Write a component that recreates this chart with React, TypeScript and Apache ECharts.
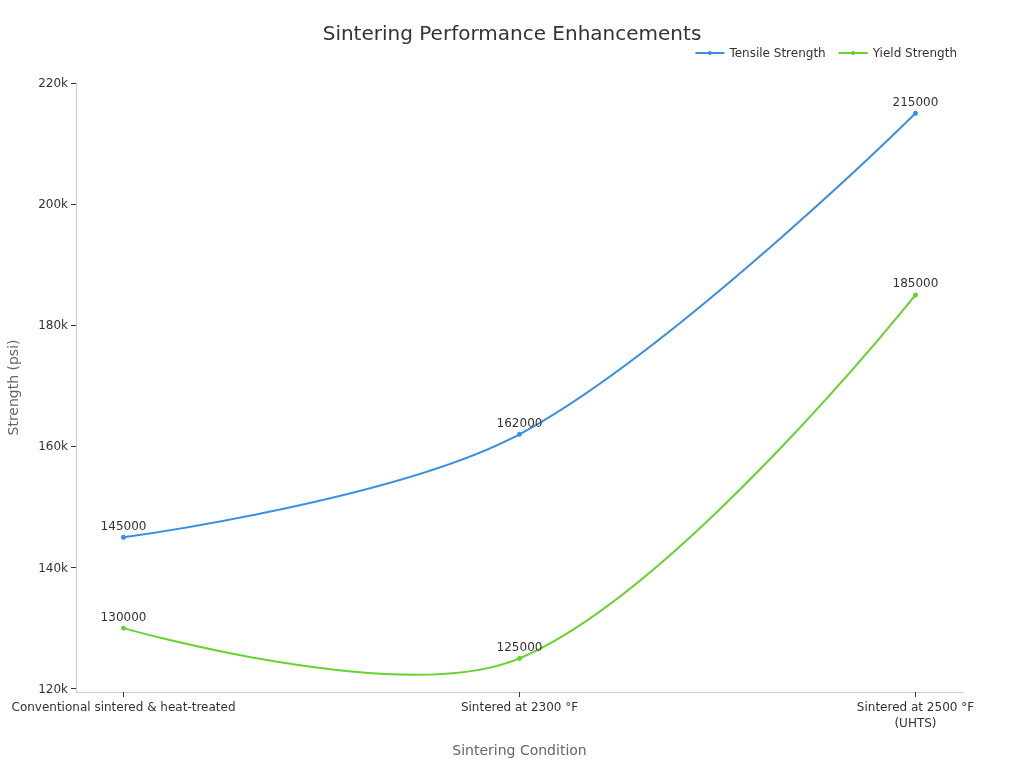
import React, { useEffect, useRef } from "react";
import * as echarts from "echarts";

const categories = ["Conventional sintered & heat-treated", "Sintered at 2300 °F", "Sintered at 2500 °F\n(UHTS)"];
const tensileStrength = [145000, 162000, 215000];
const yieldStrength = [130000, 125000, 185000];
const yTicks = [120000, 140000, 160000, 180000, 200000, 220000];

const FONT = "DejaVu Sans";
const BLUE = "#3B8FE3";
const GREEN = "#66D22E";
const TENSION = 0.35;

function curveRenderer(values: number[], color: string) {
  return (params: any, api: any) => {
    const i = params.dataIndex;
    if (i === 0) return { type: "group", children: [] };
    const pts = values.map((v, k) => api.coord([k, v]));
    const cp = (k: number) => {
      const p = pts[k];
      if (k === 0 || k === pts.length - 1) return [p, p];
      const a = pts[k - 1];
      const b = pts[k + 1];
      const d01 = Math.hypot(p[0] - a[0], p[1] - a[1]);
      const d12 = Math.hypot(b[0] - p[0], b[1] - p[1]);
      const s01 = d01 / (d01 + d12);
      const s12 = d12 / (d01 + d12);
      const vx = b[0] - a[0];
      const vy = b[1] - a[1];
      return [
        [p[0] - TENSION * s01 * vx, p[1] - TENSION * s01 * vy],
        [p[0] + TENSION * s12 * vx, p[1] + TENSION * s12 * vy],
      ];
    };
    const p0 = pts[i - 1];
    const p1 = pts[i];
    const c0 = cp(i - 1)[1];
    const c1 = cp(i)[0];
    return {
      type: "bezierCurve",
      shape: { x1: p0[0], y1: p0[1], x2: p1[0], y2: p1[1], cpx1: c0[0], cpy1: c0[1], cpx2: c1[0], cpy2: c1[1] },
      style: { stroke: color, lineWidth: 2, fill: null },
      silent: true,
    };
  };
}

export default function App() {
  const ref = useRef<HTMLDivElement>(null);
  useEffect(() => {
    if (!ref.current) return;
    const chart = echarts.init(ref.current, null, { renderer: "svg" });
    const catIdx = categories.map((_, i) => i);
    const lineSeries = (name: string, values: number[], color: string) => ({
      name,
      type: "line",
      smooth: false,
      symbol: "circle",
      symbolSize: 5,
      color,
      z: 3,
      lineStyle: { width: 2, opacity: 0 },
      label: { show: true, position: "top", distance: 3, color: "#333", fontSize: 12, fontFamily: FONT },
      data: values.map((v, i) => [i, v]),
    });
    const curveSeries = (name: string, values: number[], color: string) => ({
      name,
      type: "custom",
      z: 2,
      clip: false,
      renderItem: curveRenderer(values, color),
      data: values.map((v, i) => [i, v]),
      encode: { x: 0, y: 1 },
      tooltip: { show: false },
    });
    chart.setOption({
      animation: false,
      textStyle: { fontFamily: FONT },
      title: {
        text: "Sintering Performance Enhancements",
        left: "center",
        top: 18,
        textStyle: { fontSize: 20, fontWeight: "normal", color: "#333", fontFamily: FONT },
      },
      legend: {
        top: 42,
        right: 62,
        itemWidth: 29,
        itemHeight: 5,
        itemGap: 12,
        lineStyle: { opacity: 1, width: 2 },
        textStyle: { fontSize: 12, color: "#333", fontFamily: FONT },
        data: ["Tensile Strength", "Yield Strength"],
      },
      grid: { left: 76, right: 61, top: 83, bottom: 76, containLabel: false, outerBoundsMode: "none" },
      xAxis: {
        type: "value",
        min: -0.12,
        max: 2.12,
        name: "Sintering Condition",
        nameLocation: "middle",
        nameGap: 51,
        nameTextStyle: { fontSize: 14, color: "#666", fontFamily: FONT },
        splitLine: { show: false },
        axisLine: { show: true, onZero: false, lineStyle: { color: "#ccc" } },
        axisTick: { show: true, customValues: catIdx, length: 5, lineStyle: { color: "#333" } },
        axisLabel: {
          customValues: catIdx,
          color: "#333",
          fontSize: 12,
          margin: 7,
          lineHeight: 16,
          formatter: (v: number) => categories[Math.round(v)] ?? "",
        },
      },
      yAxis: {
        type: "value",
        min: 119450,
        max: 220000,
        name: "Strength (psi)",
        nameLocation: "middle",
        nameGap: 56,
        nameTextStyle: { fontSize: 14, color: "#666", fontFamily: FONT },
        splitLine: { show: false },
        axisLine: { show: true, onZero: false, lineStyle: { color: "#ccc" } },
        axisTick: { show: true, customValues: yTicks, length: 5, lineStyle: { color: "#333" } },
        axisLabel: {
          customValues: yTicks,
          color: "#333",
          fontSize: 12,
          margin: 8,
          formatter: (v: number) => `${Math.round(v / 1000)}k`,
        },
      },
      series: [
        curveSeries("tensile-curve", tensileStrength, BLUE),
        curveSeries("yield-curve", yieldStrength, GREEN),
        lineSeries("Tensile Strength", tensileStrength, BLUE),
        lineSeries("Yield Strength", yieldStrength, GREEN),
      ],
    });
    return () => chart.dispose();
  }, []);
  return <div ref={ref} style={{ position: "fixed", left: 0, top: 0, width: 1024, height: 768 }} />;
}
